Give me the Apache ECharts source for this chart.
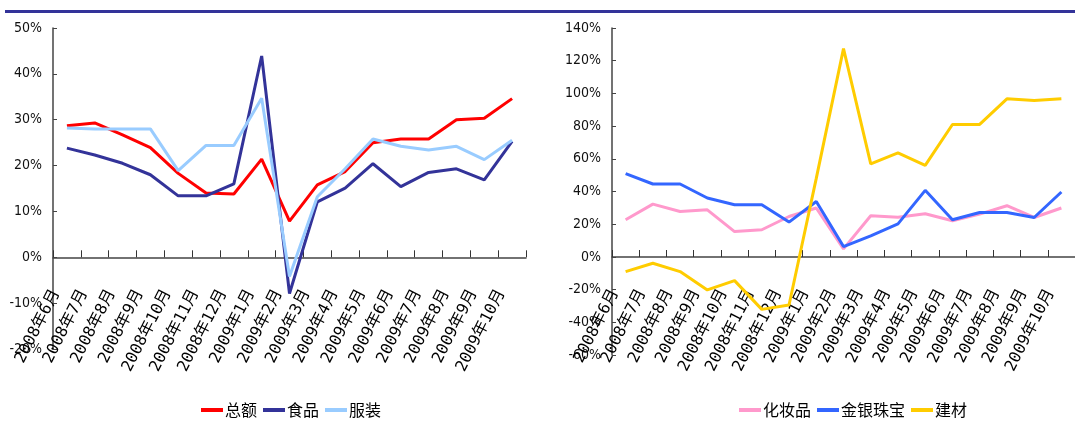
<!DOCTYPE html>
<html>
<head>
<meta charset="utf-8">
<title>零售增速</title>
<script src="https://cdn.jsdelivr.net/npm/echarts@6/dist/echarts.min.js"></script>
<style>
  html, body { margin: 0; padding: 0; background: #fff; }
  #chart { width: 1075px; height: 427px; }
</style>
</head>
<body>
<div id="chart"></div>
<script>
// 2008年6月 - 2009年10月
const months = [
  '2008年6月', '2008年7月', '2008年8月', '2008年9月', '2008年10月', '2008年11月',
  '2008年12月', '2009年1月', '2009年2月', '2009年3月', '2009年4月', '2009年5月',
  '2009年6月', '2009年7月', '2009年8月', '2009年9月', '2009年10月'
]

// left panel (%)
const total = [28.7, 29.3, 26.7, 23.9, 18.3, 14.0, 13.8, 21.4, 7.9, 15.8, 18.7, 25.0, 25.8, 25.8, 30.0, 30.3, 34.6]
const food = [23.8, 22.3, 20.5, 18.0, 13.4, 13.4, 16.0, 43.9, -7.9, 12.1, 15.1, 20.4, 15.4, 18.5, 19.3, 16.9, 25.3]
const clothing = [28.2, 28.0, 28.0, 28.0, 18.9, 24.4, 24.4, 34.7, -4.2, 13.2, 19.3, 25.8, 24.2, 23.4, 24.2, 21.3, 25.5]

// right panel (%)
const cosmetics = [22.7, 32.3, 27.8, 28.8, 15.5, 16.6, 24.7, 29.9, 4.9, 25.2, 24.3, 26.4, 22.1, 26.2, 31.3, 24.1, 29.9]
const jewelry = [50.9, 44.6, 44.6, 36.0, 31.9, 31.9, 21.3, 33.9, 6.3, 12.9, 20.2, 40.7, 22.7, 27.2, 27.2, 24.1, 39.7]
const building = [-9.0, -3.9, -9.0, -20.2, -14.5, -32.1, -29.4, 48.0, 127.4, 56.9, 63.6, 56.0, 81.0, 81.0, 96.7, 95.7, 96.7]

const chart = echarts.init(document.getElementById('chart'))

const valueFont = {
  fontFamily: '"DejaVu Sans Condensed", sans-serif',
  fontSize: 14,
  color: '#111',
  margin: 11
}

// the category axis sits on the 0% line; offset moves it up from the grid bottom
const catAxis = (gridIndex, offset) => ({
  type: 'category',
  gridIndex,
  data: months,
  offset,
  axisLine: { onZero: false, lineStyle: { color: '#444', width: 1.5 } },
  axisTick: { show: true, inside: true, length: 7, lineStyle: { color: '#333', width: 1 } },
  axisLabel: {
    interval: 0,
    rotate: 63,
    margin: 12,
    padding: [0, 24, 0, 0],
    fontFamily: '"DejaVu Sans Mono", "Noto Sans CJK SC", monospace',
    fontSize: 16,
    color: '#000'
  },
  splitLine: { show: false }
})

const valAxis = (gridIndex, min, max, interval) => ({
  type: 'value',
  gridIndex,
  min,
  max,
  interval,
  axisLine: { show: true, lineStyle: { color: '#444', width: 1.5 } },
  axisTick: { show: true, inside: true, length: 4, lineStyle: { color: '#444' } },
  axisLabel: { ...valueFont, formatter: '{value}%' },
  splitLine: { show: false }
})

const lineSeries = (name, data, color, idx) => ({
  name,
  type: 'line',
  data,
  xAxisIndex: idx,
  yAxisIndex: idx,
  symbol: 'none',
  color,
  lineStyle: { color, width: 3 }
})

const legendStyle = {
  bottom: 4,
  icon: 'rect',
  itemWidth: 22,
  itemHeight: 4,
  itemGap: 6,
  textStyle: { fontFamily: '"Noto Sans CJK SC", sans-serif', fontSize: 16, color: '#000', padding: [0, 0, 0, -3] }
}

chart.setOption({
  animation: false,
  backgroundColor: '#fff',
  graphic: [{
    type: 'rect',
    shape: { x: 5, y: 10, width: 1070, height: 3 },
    style: { fill: '#333399' }
  }],
  legend: [
    { ...legendStyle, left: 196, data: ['总额', '食品', '服装'] },
    { ...legendStyle, left: 734, data: ['化妆品', '金银珠宝', '建材'] }
  ],
  grid: [
    { left: 53, top: 28, width: 473, height: 321 },
    { left: 612, top: 28, width: 474, height: 327 }
  ],
  xAxis: [catAxis(0, -91.7), catAxis(1, -98)],
  yAxis: [valAxis(0, -20, 50, 10), valAxis(1, -60, 140, 20)],
  series: [
    lineSeries('总额', total, '#ff0000', 0),
    lineSeries('食品', food, '#333399', 0),
    lineSeries('服装', clothing, '#99ccff', 0),
    lineSeries('化妆品', cosmetics, '#ff99cc', 1),
    lineSeries('金银珠宝', jewelry, '#3366ff', 1),
    lineSeries('建材', building, '#ffcc00', 1)
  ]
})

window.addEventListener('resize', () => chart.resize())
</script>
</body>
</html>
